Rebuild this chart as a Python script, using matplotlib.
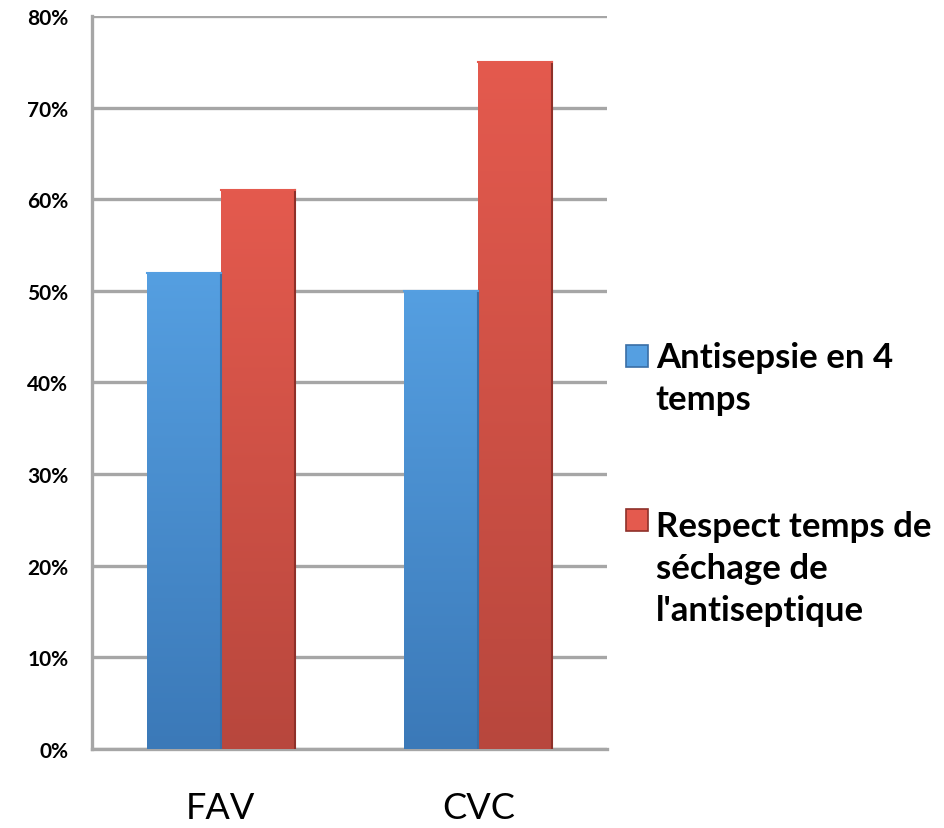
import numpy as np
import matplotlib.pyplot as plt
import matplotlib.colors as mcolors
from matplotlib.ticker import FuncFormatter

plt.rcParams.update({'font.family': ['Lato', 'DejaVu Sans'], 'font.weight': 'bold'})

# Daten
categories = ['FAV', 'CVC']
series_labels = ['Antisepsie en 4\ntemps', "Respect temps de\nséchage de\nl'antiseptique"]
antisepsie = [52, 50]
sechage = [61, 75]
yticks = [0, 10, 20, 30, 40, 50, 60, 70, 80]

fig = plt.figure(figsize=(9.45, 8.29), dpi=100)
ax = fig.add_axes([0.0974, 0.0953, 0.5450, 0.8842])

x = np.arange(len(categories))
width = 0.287

# Farbverlauf (oben hell, unten dunkel)
grads = [('#559fe1', '#3b79b8'), ('#e45a4e', '#b8473d')]
edges = ['#3a6ea5', '#8e3029']

for vals, off, (ctop, cbot), ec in zip([antisepsie, sechage], [-width/2, width/2], grads, edges):
    bars = ax.bar(x + off, vals, width, color=ctop, edgecolor='none', zorder=2)
    cmap = mcolors.LinearSegmentedColormap.from_list('g', [cbot, ctop])
    for b in bars:
        x0, y0 = b.get_x(), b.get_y()
        w, h = b.get_width(), b.get_height()
        grad = np.linspace(0, 1, 256).reshape(-1, 1)
        im = ax.imshow(grad, cmap=cmap, origin='lower', aspect='auto',
                       extent=[x0, x0 + w, y0, y0 + h], zorder=3)
        im.set_clip_path(b)
        # rechte Kante dunkler, obere Kante heller
        ax.plot([x0 + w, x0 + w], [y0, y0 + h], color=ec, lw=1.5, zorder=4)
        ax.plot([x0, x0 + w], [y0 + h, y0 + h], color=ctop, lw=1.5, zorder=4)

ax.set_xlim(-0.5, 1.5)
ax.set_ylim(0, 80)
ax.set_yticks(yticks)
ax.yaxis.set_major_formatter(FuncFormatter(lambda v, p: f'{v:.0f}%'))
ax.set_xticks(x)
ax.set_xticklabels(categories, fontsize=26, fontweight='normal')
ax.tick_params(axis='y', length=0, pad=17, labelsize=15)
ax.tick_params(axis='x', length=0, pad=30)

ax.grid(True, axis='y', color='#a6a6a6', linewidth=2.4, zorder=0)
ax.set_axisbelow(True)
for s in ['top', 'right']:
    ax.spines[s].set_visible(False)
for s in ['left', 'bottom']:
    ax.spines[s].set_color('#a6a6a6')
    ax.spines[s].set_linewidth(2.4)

# Legende: Quadrat auf Höhe der ersten Zeile
leg_y = [0.556, 0.3583]
text_y = [0.5875, 0.3835]
for lab, (ctop, cbot), ec, my, ty in zip(series_labels, grads, edges, leg_y, text_y):
    fig.patches.append(plt.Rectangle((0.6624, my), 0.0233, 0.0265, facecolor=ctop,
                                     edgecolor=ec, linewidth=1.2, transform=fig.transFigure))
    fig.text(0.694, ty, lab, fontsize=25, va='top', ha='left', linespacing=1.38)

plt.savefig('out.png', dpi=100)
